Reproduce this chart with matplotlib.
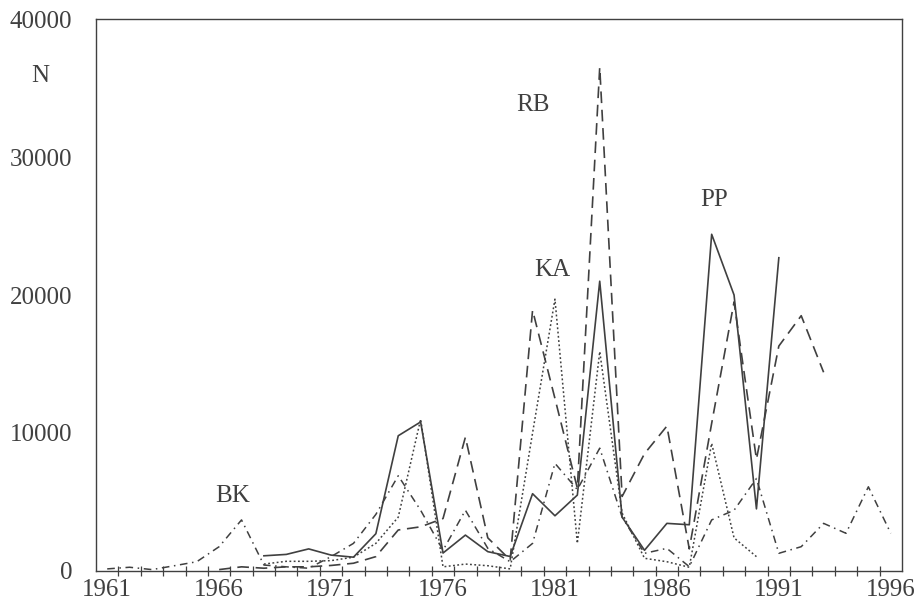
import numpy as np
import matplotlib.pyplot as plt
from matplotlib.ticker import FixedLocator

years = list(range(1961, 1997))
nan = np.nan

# PP (solid)
pp = [nan, nan, nan, nan, nan, nan, nan,
      1100, 1200, 1600, 1150, 1000, 2700, 9800, 10800, 1300, 2600, 1400, 1050,
      5600, 4000, 5500, 21000, 3900, 1500, 3450, 3350, 24400, 20000, 4500, 22700,
      nan, nan, nan, nan, nan]
# RB (long dash)
rb = [nan, nan, nan, nan, nan, 100, 300,
      200, 300, 300, 400, 560, 1040, 2970, 3200, 3800, 9700, 2400, 800,
      18900, 12500, 6000, 36500, 5400, 8500, 10500, 1600, 10700, 19500, 8100, 16300,
      18500, 14400, nan, nan, nan]
# KA (dotted)
ka = [nan, nan, nan, nan, nan, nan, nan,
      500, 700, 700, 750, 1000, 2000, 3900, 11000, 300, 500, 380, 150,
      10000, 19700, 2000, 15900, 4200, 920, 670, 270, 9250, 2400, 1040, nan,
      nan, nan, nan, nan, nan]
# BK (dash-dot)
bk = [150, 270, 100, 380, 670, 1760, 3700,
      430, 300, 200, 1040, 2000, 4100, 6900, 4400, 1500, 4400, 1640, 670,
      2000, 7800, 5900, 8900, 3900, 1280, 1640, 310, 3700, 4400, 6700, 1280,
      1760, 3450, 2730, 6100, 2730]

labels = ['BK', 'RB', 'KA', 'PP']
label_pos = [(1966.6, 5400), (1980.0, 33800), (1980.9, 21800), (1988.1, 26900)]

plt.rcParams['font.family'] = ['Liberation Serif', 'DejaVu Serif']
col = '#404040'

fig = plt.figure(figsize=(9.17, 6.06), dpi=100)
ax = fig.add_axes([0.1047, 0.0578, 0.8789, 0.9108])

ax.plot(years, pp, color=col, lw=1.2, ls='-')
ax.plot(years, rb, color=col, lw=1.2, ls=(0, (7, 4)))
ax.plot(years, ka, color=col, lw=1.1, ls=(0, (1.2, 1.6)))
ax.plot(years, bk, color=col, lw=1.1, ls=(0, (5, 3, 1, 3)))

for t, (x, y) in zip(labels, label_pos):
    ax.text(x, y, t, fontsize=18, color=col, ha='center', va='center')
ax.text(1958.0, 35900, 'N', fontsize=18, color=col, ha='center', va='center',
        clip_on=False)

ax.set_xlim(1960.5, 1996.5)
ax.set_ylim(0, 40000)
ax.set_xticks(range(1961, 1997, 5))
ax.xaxis.set_minor_locator(FixedLocator(np.arange(1961.5, 1996.5, 1)))
ax.set_yticks(range(0, 40001, 10000))
ax.tick_params(axis='x', which='major', length=0, pad=6, labelsize=18, colors=col)
ax.tick_params(axis='x', which='minor', length=7, width=0.9, direction='inout', color=col)
ax.tick_params(axis='y', length=0, pad=17, labelsize=18, colors=col)
for s in ax.spines.values():
    s.set_color(col)
    s.set_linewidth(1.0)

fig.savefig('out.png', dpi=100)
